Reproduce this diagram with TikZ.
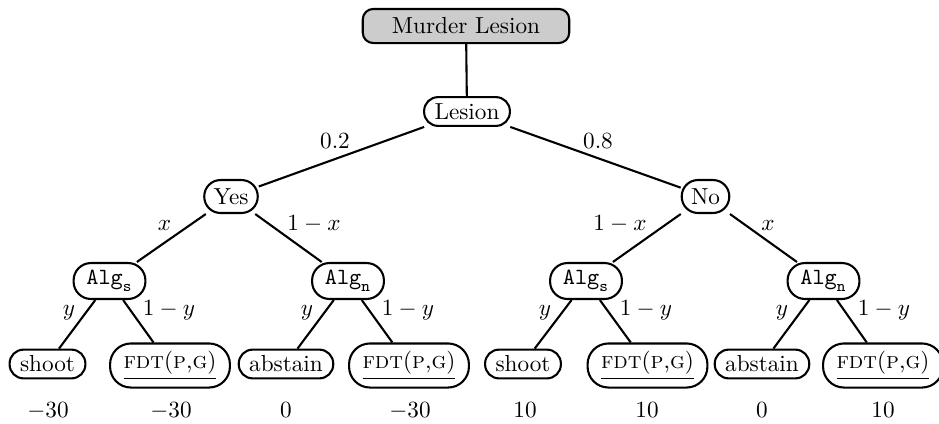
\documentclass[tikz,border=0pt]{standalone}
\begin{document}
\begin{tikzpicture}[x=0.01515cm,y=-0.01515cm,
  pill/.style={draw, line width=0.9pt, rounded corners=6pt, inner xsep=4.5pt, inner ysep=0pt, minimum height=12.4pt},
  choice/.style={pill, minimum height=14.2pt, rounded corners=7pt, inner xsep=4pt},
  alg/.style={pill, minimum height=15.5pt, rounded corners=7.5pt, inner xsep=5.5pt},
  fdt/.style={pill, minimum height=19pt, rounded corners=9pt, inner xsep=5.8pt},
  rootbox/.style={draw, line width=0.9pt, fill=black!20, rounded corners=4.5pt, minimum width=89pt, minimum height=14.7pt, inner ysep=0pt},
  prob/.style={anchor=base, inner sep=0pt},
  edge/.style={line width=0.9pt}
]
\useasboundingbox (0,0) rectangle (939,423);

% decision and chance nodes
\node[rootbox] (top) at (466,26) {Murder Lesion};
\node[pill] (les) at (467,111.5) {Lesion};
\node[choice] (yes) at (231,196.5) {Yes};
\node[choice] (no) at (705.5,196.5) {No};
\node[alg] (as1) at (109.5,281) {$\mathtt{Alg}_{\mathtt{s}}$};
\node[alg] (an1) at (348,281) {$\mathtt{Alg}_{\mathtt{n}}$};
\node[alg] (as2) at (586,281) {$\mathtt{Alg}_{\mathtt{s}}$};
\node[alg] (an2) at (823.5,281) {$\mathtt{Alg}_{\mathtt{n}}$};

% outcomes
\node[pill] (l1) at (47.5,364) {shoot};
\node[fdt] (l2) at (170,365.5) {\underline{\textsc{fdt}(\textsc{p},\textsc{g})}};
\node[pill] (l3) at (286,364) {abstain};
\node[fdt] (l4) at (409,365.5) {\underline{\textsc{fdt}(\textsc{p},\textsc{g})}};
\node[pill] (l5) at (523,364) {shoot};
\node[fdt] (l6) at (647.5,365.5) {\underline{\textsc{fdt}(\textsc{p},\textsc{g})}};
\node[pill] (l7) at (762,364) {abstain};
\node[fdt] (l8) at (883,365.5) {\underline{\textsc{fdt}(\textsc{p},\textsc{g})}};

% payoffs
\node[prob] (p1) at (48,417) {$-30$};
\node[prob] (p2) at (171,417) {$-30$};
\node[prob] (p3) at (286,417) {$0$};
\node[prob] (p4) at (410,417) {$-30$};
\node[prob] (p5) at (525,417) {$10$};
\node[prob] (p6) at (647,417) {$10$};
\node[prob] (p7) at (762,417) {$0$};
\node[prob] (p8) at (883,417) {$10$};

% branches
\draw[edge] (top) -- (les);
\draw[edge] (les) -- (yes);
\draw[edge] (les) -- (no);
\draw[edge] (yes) -- (as1);
\draw[edge] (yes) -- (an1);
\draw[edge] (no) -- (as2);
\draw[edge] (no) -- (an2);
\draw[edge] (as1) -- (l1);
\draw[edge] (as1) -- (l2);
\draw[edge] (an1) -- (l3);
\draw[edge] (an1) -- (l4);
\draw[edge] (as2) -- (l5);
\draw[edge] (as2) -- (l6);
\draw[edge] (an2) -- (l7);
\draw[edge] (an2) -- (l8);

% branch probabilities
\node[prob] (q1) at (335,148) {$0.2$};
\node[prob] (q2) at (598,148) {$0.8$};
\node[prob] (q3) at (164.5,230) {$x$};
\node[prob] (q4) at (314,230) {$1-x$};
\node[prob] (q5) at (620,230) {$1-x$};
\node[prob] (q6) at (768,230) {$x$};
\node[prob] (q7) at (69,315.5) {$y$};
\node[prob] (q8) at (169,315.5) {$1-y$};
\node[prob] (q9) at (307,315.5) {$y$};
\node[prob] (q10) at (408,315.5) {$1-y$};
\node[prob] (q11) at (545,315.5) {$y$};
\node[prob] (q12) at (646,315.5) {$1-y$};
\node[prob] (q13) at (782,315.5) {$y$};
\node[prob] (q14) at (884,315.5) {$1-y$};
\end{tikzpicture}
\end{document}
